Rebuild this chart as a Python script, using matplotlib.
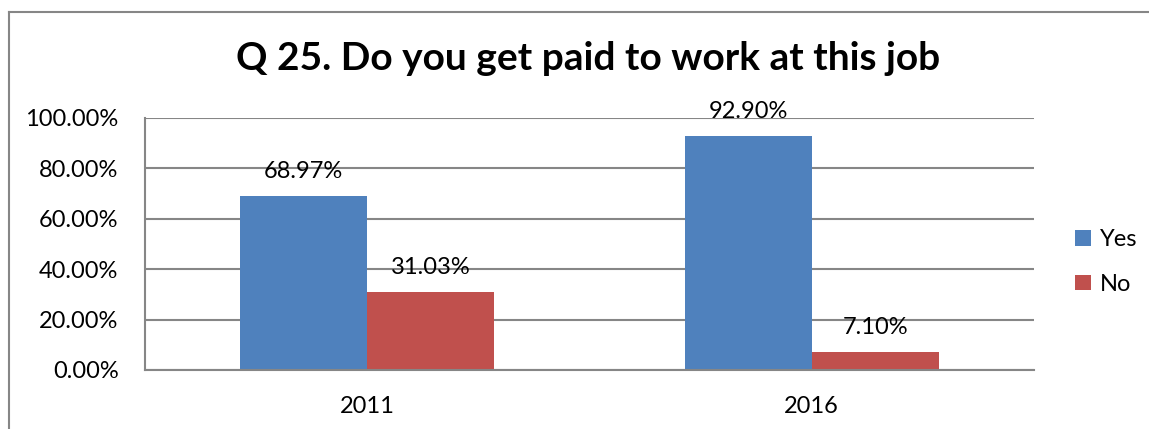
import matplotlib.pyplot as plt
from matplotlib.lines import Line2D
import numpy as np

years = ['2011', '2016']
yes = [68.97, 92.90]
no = [31.03, 7.10]
y_ticks = [0, 20, 40, 60, 80, 100]

plt.rcParams['font.family'] = ['Lato', 'DejaVu Sans']

fig = plt.figure(figsize=(11.49, 4.29), dpi=100)
ax = fig.add_axes([145 / 1149, 1 - 370 / 429, (1034 - 145) / 1149, (370 - 118) / 429])

x = np.arange(len(years))
w = 1 / 3.5
b1 = ax.bar(x - w / 2, yes, w, color='#4F81BD', label='Yes')
b2 = ax.bar(x + w / 2, no, w, color='#C0504D', label='No')

for bars, vals in ((b1, yes), (b2, no)):
    for rect, v in zip(bars, vals):
        ax.text(rect.get_x() + rect.get_width() / 2, v + 5.5, '%.2f%%' % v,
                ha='center', va='bottom', fontsize=17)

ax.set_xlim(-0.5, 1.5)
ax.set_ylim(0, 100)
ax.set_yticks(y_ticks)
ax.set_yticklabels(['%.2f%%' % t for t in y_ticks], fontsize=17)
ax.set_xticks(x)
ax.set_xticklabels(years, fontsize=17)
ax.tick_params(axis='y', length=0, pad=19)
ax.tick_params(axis='x', length=0, pad=19)
ax.yaxis.grid(True, color='#868686', linewidth=1.5)
ax.set_axisbelow(True)
for side in ['top', 'right']:
    ax.spines[side].set_visible(False)
ax.spines['left'].set_color('#868686')
ax.spines['bottom'].set_color('#868686')
ax.spines['left'].set_linewidth(1.5)
ax.spines['bottom'].set_linewidth(1.5)

fig.text(0.512, 1 - 59 / 429, 'Q 25. Do you get paid to work at this job',
         ha='center', va='center', fontsize=28, fontweight='bold')

ax.legend(loc='center left', bbox_to_anchor=(1054 / 1149, 1 - 262 / 429),
          bbox_transform=fig.transFigure, frameon=False,
          fontsize=17, handlelength=0.65, handleheight=0.65, handletextpad=0.4,
          labelspacing=1.0)

# chart border (left and top edges only)
fig.add_artist(Line2D([9 / 1149, 9 / 1149], [0, 1 - 12 / 429], transform=fig.transFigure,
                      color='#868686', linewidth=1.5))
fig.add_artist(Line2D([9 / 1149, 1], [1 - 12 / 429, 1 - 12 / 429], transform=fig.transFigure,
                      color='#868686', linewidth=1.5))

plt.savefig('out.png', dpi=100)
